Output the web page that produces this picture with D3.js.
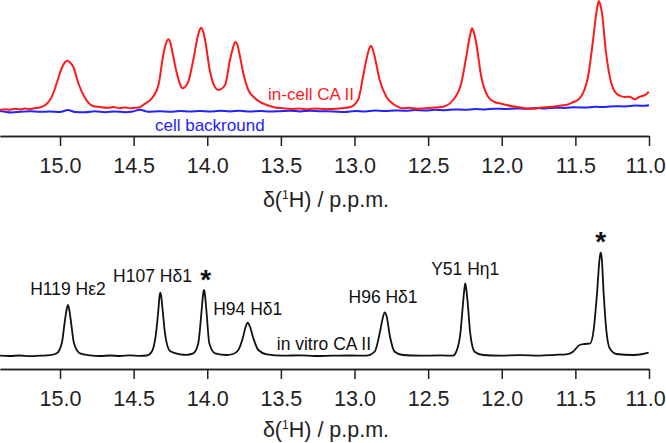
<!DOCTYPE html>
<html>
<head>
<meta charset="utf-8">
<title>CA II 1H NMR</title>
<style>
  html, body { margin: 0; padding: 0; background: #fff; }
  svg { display: block; }
  text { font-family: "Liberation Sans", Arial, sans-serif; }
  .axis path, .axis line { stroke: #222; stroke-width: 1.5px; }
  .axis text { font-size: 21.5px; fill: #222; }
</style>
</head>
<body>
<svg width="666" height="443"></svg>
<script src="https://d3js.org/d3.v7.min.js"></script>
<script>
// chemical shift (ppm), intensity (a.u.)

// in-cell CA II (red)
const inCellPpm = [15.407,15.370,15.340,15.305,15.272,15.240,15.204,15.183,15.136,15.100,15.068,15.045,15.022,14.988,14.965,14.950,14.932,14.910,14.876,14.830,14.776,14.730,14.681,14.640,14.593,14.560,14.525,14.490,14.457,14.436,14.368,14.328,14.301,14.280,14.265,14.250,14.235,14.207,14.167,14.129,14.095,14.065,14.052,14.042,14.030,14.015,13.981,13.947,13.925,13.879,13.846,13.823,13.815,13.807,13.796,13.782,13.755,13.721,13.676,13.596,13.540,13.484,13.430,13.370,13.320,13.260,13.200,13.146,13.090,13.033,12.976,12.942,12.920,12.902,12.890,12.877,12.863,12.829,12.784,12.727,12.671,12.630,12.580,12.512,12.460,12.399,12.331,12.275,12.241,12.215,12.202,12.189,12.173,12.139,12.093,12.050,12.014,11.969,11.920,11.878,11.830,11.788,11.740,11.700,11.652,11.610,11.562,11.520,11.471,11.414,11.380,11.358,11.348,11.340,11.331,11.319,11.294,11.256,11.230,11.199,11.165,11.131,11.097,11.063,11.040,11.018,11.002];
const inCellInt = [4.0,4.8,4.3,5.2,4.6,5.4,5.0,5.6,6.5,9.0,14.0,21.0,31.0,46.0,52.0,53.3,51.5,47.3,31.0,16.0,8.0,7.0,6.3,6.9,5.8,6.6,5.7,6.2,6.8,9.0,17.3,31.0,57.3,70.5,74.7,71.0,60.7,41.0,25.7,32.3,54.0,77.3,84.0,86.3,83.5,74.0,42.3,26.7,24.0,29.0,54.0,67.3,71.0,72.0,69.5,60.7,40.7,24.0,15.7,9.0,6.6,5.7,5.0,5.4,4.8,5.6,4.9,5.0,5.8,6.7,14.0,37.3,54.0,64.5,68.3,65.0,57.3,34.0,17.3,9.0,5.7,6.2,5.3,5.7,6.4,7.3,14.0,30.7,57.3,79.0,85.7,81.5,70.7,37.3,17.3,12.0,10.7,9.0,7.6,6.7,5.6,5.3,6.2,6.8,7.3,8.2,9.0,11.5,15.7,37.3,74.0,100.7,109.0,113.0,109.5,100.7,64.0,30.7,22.0,18.3,17.0,17.3,14.7,17.3,18.2,19.7,22.3];

// cell background (blue)
const cellPpm = [15.407,15.367,15.326,15.272,15.204,15.136,15.068,15.000,14.946,14.898,14.830,14.762,14.694,14.626,14.559,14.504,14.457,14.402,14.321,14.253,14.185,14.117,14.049,13.981,13.913,13.846,13.778,13.710,13.642,13.574,13.506,13.438,13.370,13.302,13.234,13.146,13.065,12.997,12.929,12.861,12.793,12.725,12.657,12.589,12.521,12.453,12.385,12.317,12.250,12.182,12.114,12.046,11.978,11.910,11.842,11.774,11.706,11.638,11.570,11.503,11.435,11.367,11.299,11.231,11.163,11.095,11.027,11.000];
const cellInt = [3.0,2.0,1.5,2.3,2.8,2.2,2.5,2.0,4.0,2.0,1.7,2.7,1.8,2.5,1.8,2.6,4.2,2.2,2.8,2.2,3.0,2.4,3.0,2.5,3.2,2.6,3.2,2.5,3.0,2.4,2.8,3.2,2.6,3.3,2.8,2.6,2.0,3.0,2.5,3.4,3.0,3.6,3.2,4.0,3.5,4.2,3.8,4.6,4.2,5.0,4.6,5.3,5.0,5.6,5.2,6.0,5.6,6.3,6.0,6.8,6.4,7.2,7.0,7.8,7.6,8.4,8.3,8.8];

// in vitro CA II (black)
const inVitroPpm = [15.407,15.340,15.272,15.204,15.136,15.068,15.022,14.988,14.966,14.952,14.946,14.940,14.927,14.905,14.864,14.796,14.728,14.660,14.593,14.525,14.457,14.411,14.377,14.348,14.332,14.323,14.319,14.314,14.303,14.287,14.253,14.185,14.144,14.095,14.061,14.038,14.027,14.022,14.017,14.006,13.986,13.947,13.868,13.825,13.789,13.759,13.739,13.725,13.710,13.687,13.653,13.596,13.484,13.370,13.268,13.146,13.031,12.920,12.863,12.829,12.806,12.795,12.781,12.761,12.727,12.671,12.555,12.419,12.331,12.309,12.281,12.263,12.253,12.248,12.242,12.231,12.214,12.184,12.127,12.012,11.877,11.741,11.638,11.562,11.516,11.471,11.437,11.399,11.376,11.353,11.335,11.328,11.321,11.308,11.290,11.267,11.222,11.109,11.041,11.002];
const inVitroInt = [1.3,1.0,1.5,0.8,1.3,1.8,3.7,13.7,37.0,49.5,52.0,49.5,37.0,13.7,3.7,1.7,1.0,1.5,1.0,1.6,1.1,1.5,5.3,23.7,47.0,62.0,64.3,62.0,47.0,23.7,6.0,2.7,2.2,3.7,13.7,47.0,64.0,67.0,64.0,47.0,13.7,3.7,2.0,3.0,7.0,18.7,30.3,34.3,30.3,18.7,7.0,2.7,1.3,1.7,1.0,1.3,1.5,1.3,5.3,23.7,40.3,44.7,40.3,22.0,5.3,2.0,1.3,1.6,1.3,5.3,23.7,53.7,69.0,73.7,69.0,53.7,23.7,5.3,2.0,1.4,1.8,1.4,2.2,2.7,5.3,12.0,13.0,13.7,27.0,63.7,99.0,104.3,99.0,63.7,27.0,8.7,3.0,2.0,3.0,4.3];

// axis ticks
const majorTicks = [15.0, 14.5, 14.0, 13.5, 13.0, 12.5, 12.0, 11.5, 11.0];
const minorTicks = d3.range(44, 109).map(i => i / 10).filter(v => Math.abs(v * 2 - Math.round(v * 2)) > 1e-6);

// annotations
const topLabels = ["in-cell CA II", "cell backround"];
const topLabelPpm = [13.587, 14.355];
const topLabelInt = [14, -17];
const peakLabels = ["H119 H\u03b52", "H107 H\u03b41", "H94 H\u03b41", "H96 H\u03b41", "Y51 H\u03b71", "in vitro CA II"];
const peakLabelPpm = [14.946, 14.372, 13.725, 12.806, 12.248, 13.528];
const peakLabelInt = [62, 75.3, 42, 53.7, 82, 7];
const starPpm = [14.01, 11.328];
const starInt = [68, 106];

const svg = d3.select("svg");

const x = d3.scaleLinear().domain([15.4075, 11.0]).range([0, 649]);
const yTop = d3.scaleLinear().domain([0, 113]).range([114, 1]);
const yBot = d3.scaleLinear().domain([0, 113]).range([357, 244]);

function trace(ppm, ints, y, color, width) {
  const pts = ppm.map((p, i) => [p, ints[i]]);
  svg.append("path")
    .datum(pts)
    .attr("fill", "none")
    .attr("stroke", color)
    .attr("stroke-width", width)
    .attr("stroke-linejoin", "round")
    .attr("d", d3.line().x(d => x(d[0])).y(d => y(d[1])).curve(d3.curveMonotoneX));
}

function axis(yPos, titleY) {
  const g = svg.append("g").attr("class", "axis").attr("transform", `translate(0,${yPos})`);
  g.append("g").call(d3.axisBottom(x).tickValues(minorTicks).tickSize(5).tickSizeOuter(0).tickFormat(""));
  const major = g.append("g").call(d3.axisBottom(x).tickValues(majorTicks).tickSize(10).tickSizeOuter(0)
    .tickPadding(12).tickFormat(d3.format(".1f")));
  // last label sits against the right edge
  major.selectAll(".tick text").filter(d => d === 11.0).attr("dx", "-4");
  const t = g.append("text")
    .attr("x", 326).attr("y", titleY)
    .attr("text-anchor", "middle")
    .attr("font-size", "21.5px")
    .attr("fill", "#222");
  t.append("tspan").text("\u03b4(");
  t.append("tspan").attr("font-size", "12px").attr("dy", -8).text("1");
  t.append("tspan").attr("dy", 8).text("H) / p.p.m.");
}

trace(cellPpm, cellInt, yTop, "#2323ff", 2);
trace(inCellPpm, inCellInt, yTop, "#ff1a1a", 2);
trace(inVitroPpm, inVitroInt, yBot, "#111", 1.8);

axis(136, 71);
axis(369, 68);

svg.selectAll(".toplab")
  .data(topLabels)
  .join("text")
  .attr("x", (d, i) => x(topLabelPpm[i]))
  .attr("y", (d, i) => yTop(topLabelInt[i]))
  .attr("font-size", "17px")
  .attr("fill", (d, i) => i === 0 ? "#ff1a1a" : "#2323ff")
  .text(d => d);

svg.selectAll(".peaklab")
  .data(peakLabels)
  .join("text")
  .attr("x", (d, i) => x(peakLabelPpm[i]))
  .attr("y", (d, i) => yBot(peakLabelInt[i]))
  .attr("text-anchor", (d, i) => i === peakLabels.length - 1 ? "start" : "middle")
  .attr("font-size", "17.5px")
  .attr("fill", "#111")
  .text(d => d);

svg.selectAll(".star")
  .data(starPpm)
  .join("text")
  .attr("x", d => x(d))
  .attr("y", (d, i) => yBot(starInt[i]))
  .attr("text-anchor", "middle")
  .attr("font-size", "28px")
  .attr("font-weight", "bold")
  .attr("fill", "#111")
  .text("*");
</script>
</body>
</html>
